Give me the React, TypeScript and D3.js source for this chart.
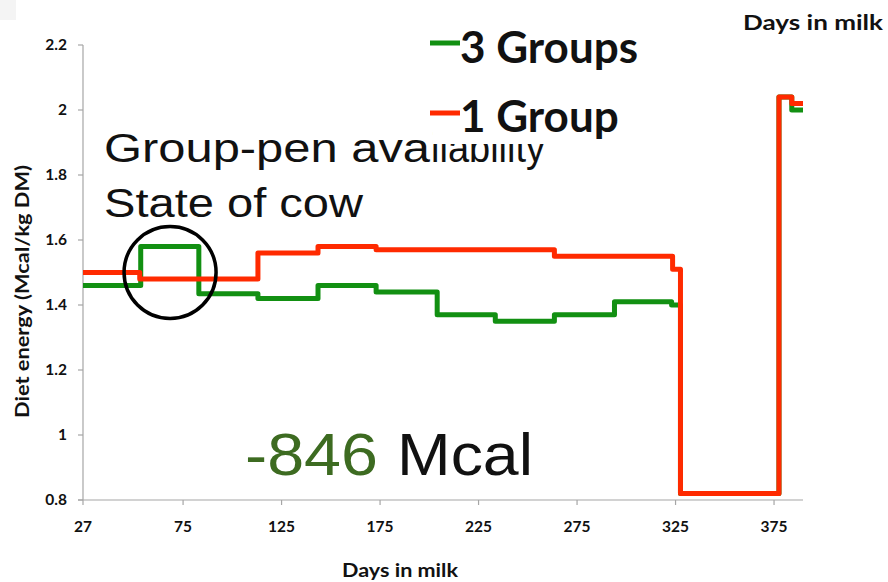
import React from "react";
import * as d3 from "d3";

// ---- data ----
const dayStart = 24.2;
const dayEnd = 389.7;

const greenDays = [24.2, 53.5, 83, 113, 143.5, 173, 204, 233.5, 263.5, 294, 323, 327.5, 377.5, 384, 389.7];
const greenVals = [1.46, 1.58, 1.435, 1.42, 1.46, 1.44, 1.37, 1.35, 1.37, 1.41, 1.40, 0.82, 2.04, 2.0, 2.0];

const redDays = [24.2, 53, 113, 143.5, 173, 263.5, 323.5, 327.5, 377.5, 384, 389.7];
const redVals = [1.5, 1.48, 1.56, 1.58, 1.57, 1.55, 1.51, 0.82, 2.04, 2.02, 2.02];

const xTickValues = [24.2, 75, 125, 175, 225, 275, 325, 375];
const xTickLabels = ["27", "75", "125", "175", "225", "275", "325", "375"];
const yTickValues = [0.8, 1, 1.2, 1.4, 1.6, 1.8, 2, 2.2];
const yTickLabels = ["0.8", "1", "1.2", "1.4", "1.6", "1.8", "2", "2.2"];

const seriesNames = ["3 Groups", "1 Group"];
const seriesColors = ["#129012", "#ff2a00"];

const W = 888;
const H = 582;
const plotLeft = 83;
const plotRight = 803;
const plotTop = 45;
const plotBottom = 500;

const LBL = "Lato, 'Open Sans', sans-serif";
const HEL = "'Liberation Sans', Arial, sans-serif";

export default function App() {
  const x = d3.scaleLinear().domain([dayStart, dayEnd]).range([plotLeft, plotRight]);
  const y = d3.scaleLinear().domain([0.8, 2.2]).range([plotBottom, plotTop]);

  const line = d3
    .line<[number, number]>()
    .x((d) => x(d[0]))
    .y((d) => y(d[1]))
    .curve(d3.curveStepAfter);

  const greenPts: [number, number][] = greenDays.map((d, i) => [d, greenVals[i]]);
  const redPts: [number, number][] = redDays.map((d, i) => [d, redVals[i]]);

  const axisColor = "#a6a6a6";

  return (
    <svg
      width={W}
      height={H}
      viewBox={`0 0 ${W} ${H}`}
      style={{ position: "absolute", left: 0, top: 0, background: "#fff" }}
    >
      <rect x={0} y={0} width={W} height={H} fill="#fff" />
      <rect x={0} y={0} width={16} height={20} fill="#f4f4f4" />

      {/* y axis */}
      <line x1={plotLeft} x2={plotLeft} y1={plotTop} y2={plotBottom} stroke={axisColor} strokeWidth={1.2} />
      {yTickValues.map((v, i) => (
        <g key={"yt" + i}>
          <line x1={plotLeft - 5} x2={plotLeft} y1={y(v)} y2={y(v)} stroke={axisColor} strokeWidth={1.2} />
          <text
            x={plotLeft - 16}
            y={y(v) + 5}
            textAnchor="end"
            fontFamily={LBL}
            fontWeight={700}
            fontSize={15.5}
            fill="#111"
          >
            {yTickLabels[i]}
          </text>
        </g>
      ))}

      {/* x axis */}
      <line x1={plotLeft - 5} x2={plotRight} y1={plotBottom} y2={plotBottom} stroke={axisColor} strokeWidth={1.2} />
      {xTickValues.map((v, i) => (
        <g key={"xt" + i}>
          <line x1={x(v)} x2={x(v)} y1={plotBottom} y2={plotBottom + 5} stroke={axisColor} strokeWidth={1.2} />
          <text
            x={x(v)}
            y={plotBottom + 32}
            textAnchor="middle"
            fontFamily={LBL}
            fontWeight={700}
            fontSize={15.5}
            fill="#111"
          >
            {xTickLabels[i]}
          </text>
        </g>
      ))}

      {/* axis titles */}
      <text
        transform={`translate(29, 291.5) rotate(-90)`}
        textAnchor="middle"
        fontFamily={LBL}
        fontWeight={700}
        fontSize={19}
        textLength={253}
        lengthAdjust="spacingAndGlyphs"
        fill="#111"
      >
        Diet energy (Mcal/kg DM)
      </text>
      <text
        x={342}
        y={577}
        fontFamily={LBL}
        fontWeight={700}
        fontSize={19}
        textLength={116}
        lengthAdjust="spacingAndGlyphs"
        fill="#111"
      >
        Days in milk
      </text>
      <text
        x={743}
        y={30}
        fontFamily={LBL}
        fontWeight={700}
        fontSize={21}
        textLength={140}
        lengthAdjust="spacingAndGlyphs"
        fill="#111"
      >
        Days in milk
      </text>

      {/* series */}
      <path d={line(greenPts) || ""} fill="none" stroke={seriesColors[0]} strokeWidth={5} strokeLinejoin="round" />
      <path d={line(redPts) || ""} fill="none" stroke={seriesColors[1]} strokeWidth={5} strokeLinejoin="round" />

      {/* annotations */}
      <text x={104} y={162} fontFamily={HEL} fontSize={40} fill="#111" textLength={326} lengthAdjust="spacingAndGlyphs">
        Group-pen ava
      </text>
      <text x={431} y={162} fontFamily={HEL} fontSize={40} fill="#111" textLength={114} lengthAdjust="spacingAndGlyphs">
        ilability
      </text>
      <rect x={433} y={100} width={130} height={44} fill="#fff" />
      <text x={104} y={217} fontFamily={HEL} fontSize={40} fill="#111" textLength={259} lengthAdjust="spacingAndGlyphs">
        State of cow
      </text>
      <circle cx={x(68.4)} cy={y(1.5)} r={46} fill="none" stroke="#000" strokeWidth={3.5} />

      <text x={245} y={475} fontFamily={HEL} fontSize={60} fill="#3d6b21" textLength={133} lengthAdjust="spacingAndGlyphs">
        -846
      </text>
      <text x={397} y={475} fontFamily={HEL} fontSize={60} fill="#111" textLength={136} lengthAdjust="spacingAndGlyphs">
        Mcal
      </text>

      {/* legend */}
      {seriesNames.map((name, i) => (
        <g key={"lg" + i}>
          <line x1={430} x2={460} y1={43 + i * 70} y2={43 + i * 70} stroke={seriesColors[i]} strokeWidth={5} />
          <text x={460} y={63 + i * 69} fontFamily={LBL} fontWeight={700} fontSize={44} fill="#111">
            {name}
          </text>
        </g>
      ))}
    </svg>
  );
}
